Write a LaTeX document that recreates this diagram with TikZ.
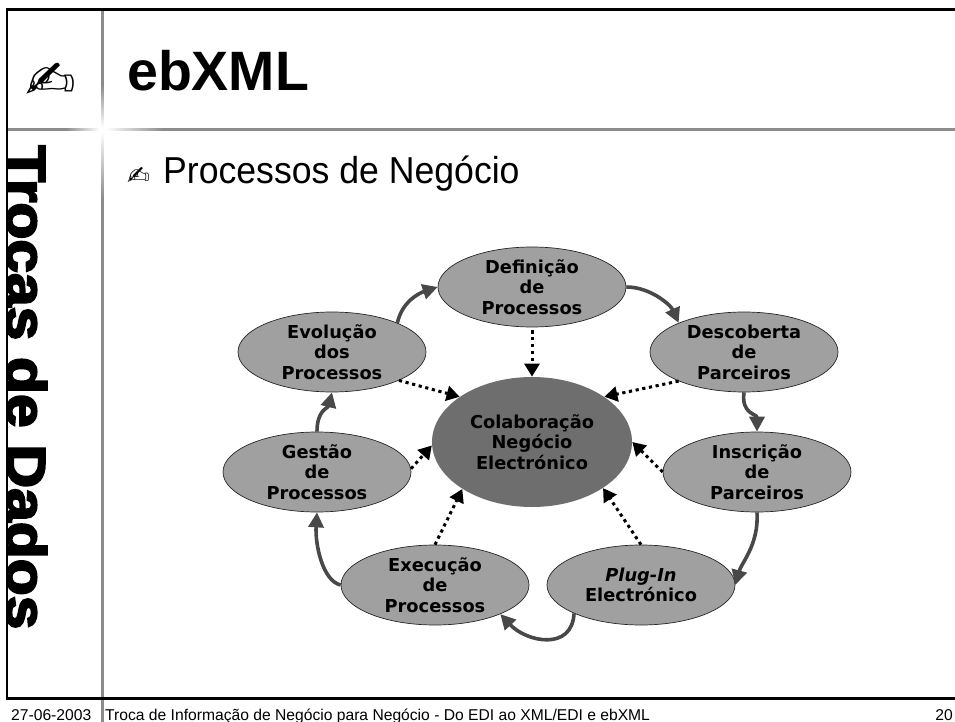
\documentclass[tikz,border=0pt]{standalone}
\usepackage{fontspec}
\usetikzlibrary{shapes.geometric,arrows.meta}
\setmainfont{Liberation Sans}
\newfontfamily\ovalfont{DejaVu Sans}
\newfontfamily\heavyfont{Liberation Sans Bold}[FakeBold=3.5]
\newfontfamily\symfont{DejaVu Sans}
\definecolor{rulegray}{HTML}{8C8C8C}
\definecolor{ovalgray}{HTML}{A0A0A0}
\definecolor{coregray}{HTML}{6E6E6E}
\definecolor{arrowgray}{HTML}{484848}
\tikzset{
  x=1pt,y=-1pt,
  oval/.style={ellipse,draw=black!85,line width=0.7pt,fill=ovalgray,minimum width=188pt,minimum height=80pt,inner sep=0pt,align=center,
    font=\ovalfont\fontsize{17.8}{20.5}\selectfont\bfseries},
  coreoval/.style={oval,draw=none,fill=coregray,minimum width=200pt,minimum height=130pt},
  flow/.style={draw=arrowgray,line width=3.6pt,-{Triangle[length=15pt,width=15pt,fill=arrowgray]}},
  feed/.style={draw=black,line width=3pt,dash pattern=on 3.2pt off 3.6pt,-{Triangle[length=13pt,width=15pt,fill=black]}},
  plain/.style={anchor=base west,inner sep=0pt},
  footer/.style={inner sep=0pt,font=\fontsize{15.65}{15.65}\selectfont},
}
\begin{document}
\begin{tikzpicture}
\useasboundingbox (0,0) rectangle (955,722);
\fill[white] (0,0) rectangle (955,722);
% side title, clipped by the frame
\begin{scope}
\clip (7,132) rectangle (100,690);
\node[rotate=-90,anchor=base west,inner sep=0pt,xscale=1.1,font=\heavyfont\fontsize{55}{55}\selectfont] (side) at (7,145) {Trocas de Dados};
\end{scope}
% grey rules with the bright crossing
\fill[rulegray] (101,10) rectangle (104,85);
\fill[rulegray] (101,198) rectangle (104,722);
\fill[rulegray] (8,127.8) rectangle (65,130.8);
\fill[rulegray] (165,127.8) rectangle (955,130.8);
\foreach \i in {0,...,21}{
  \pgfmathsetmacro{\p}{100*(1-\i/21)}
  \fill[rulegray!\p!white] (101,85+2*\i) rectangle (104,87.2+2*\i);
}
\foreach \i in {0,...,33}{
  \pgfmathsetmacro{\p}{100*\i/33}
  \fill[rulegray!\p!white] (101,131+2*\i) rectangle (104,133.2+2*\i);
}
\foreach \i in {0,...,17}{
  \pgfmathsetmacro{\p}{100*(1-\i/17)}
  \fill[rulegray!\p!white] (65+2*\i,127.8) rectangle (67.2+2*\i,130.8);
}
\foreach \i in {0,...,29}{
  \pgfmathsetmacro{\p}{100*\i/29}
  \fill[rulegray!\p!white] (105+2*\i,127.8) rectangle (107.2+2*\i,130.8);
}
% frame
\fill[black] (5.5,8) rectangle (955,11);
\fill[black] (5.5,8) rectangle (8,699.5);
\fill[black] (5.5,697) rectangle (955,699.5);
% headings
\node[plain,xscale=1.17,font=\symfont\fontsize{52}{52}\selectfont] (pen) at (25,99) {✍};
\node[plain,font=\bfseries\fontsize{55.5}{55.5}\selectfont] (title) at (127,91) {ebXML};
\node[plain,xscale=1.1,font=\symfont\fontsize{25}{25}\selectfont] (bullet) at (127,185) {✍};
\node[plain,xscale=0.95,font=\fontsize{37.5}{37.5}\selectfont] (sub) at (163,183) {Processos de Negócio};
% footer
\node[footer,anchor=base west] (date) at (11,720) {27-06-2003};
\node[footer,anchor=base west] (foot) at (105,720) {Troca de Informação de Negócio para Negócio - Do EDI ao XML/EDI e ebXML};
\node[footer,anchor=base east] (page) at (953,720) {20};
% ovals
\node[coreoval] (core) at (532,442) {Colaboração\\Negócio\\Electrónico};
\node[oval] (def)  at (532,287) {Definição\\de\\Processos};
\node[oval] (desc) at (744,352) {Descoberta\\de\\Parceiros};
\node[oval] (ins)  at (757,472) {Inscrição\\de\\Parceiros};
\node[oval] (plug) at (641,585) {\textit{Plug-In}\\Electrónico};
\node[oval] (exe)  at (435,585) {Execução\\de\\Processos};
\node[oval] (ges)  at (317,472) {Gestão\\de\\Processos};
\node[oval] (evo)  at (332,352) {Evolução\\dos\\Processos};
% cycle arrows
\draw[flow] (evo.24) .. controls +(5,-22) and +(-18,6) .. (def.west);
\draw[flow] (def.east) .. controls +(24,0) and +(-8,-18) .. (desc.156);
\draw[flow] (desc.south) .. controls +(-3,22) and +(0,-18) .. (ins.north);
\draw[flow] (ins.south) .. controls +(2,32) and +(6,-22) .. (plug.east);
\draw[flow] (plug.203) .. controls +(-2,38) and +(26,28) .. (exe.-24);
\draw[flow] (exe.west) .. controls +(-18,-4) and +(-2,32) .. (ges.south);
\draw[flow] (ges.north) .. controls +(0,-22) and +(-4,16) .. (evo.south);
% feeds into the core
\draw[feed] (def.south) ++(0,3) -- (core.90);
\draw[feed] (desc.204) -- (core.32);
\draw[feed] (evo.-23) -- (core.148);
\draw[feed] (ges.2) -- (core.182);
\draw[feed] (ins.180) -- (core.0);
\draw[feed] (exe.90) -- (core.214);
\draw[feed] (plug.90) -- (core.327);
\end{tikzpicture}
\end{document}
